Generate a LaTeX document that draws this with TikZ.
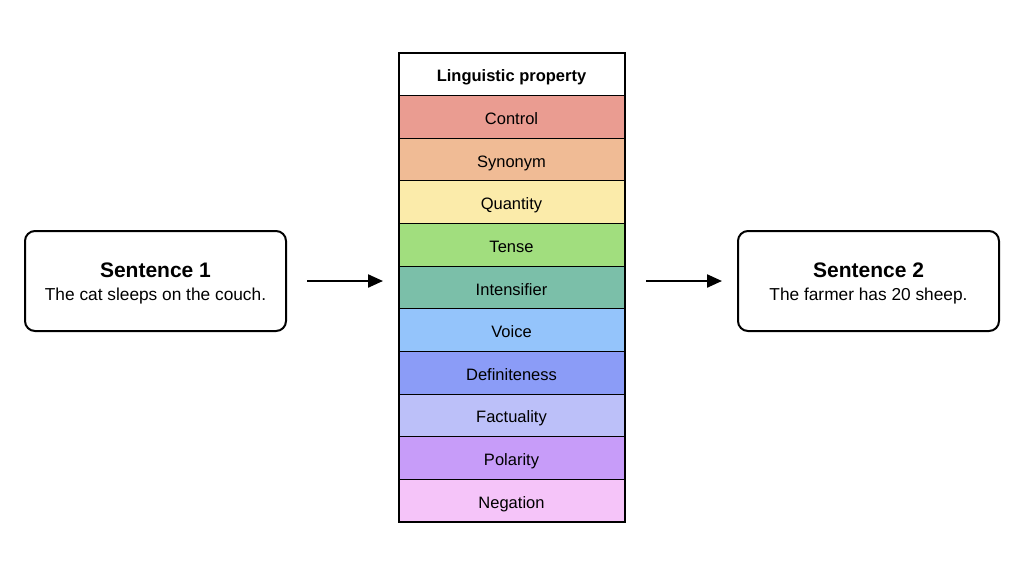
\documentclass[tikz,border=0pt]{standalone}
\usepackage{fontspec}
\setmainfont{Liberation Sans}
\usetikzlibrary{arrows.meta}
\definecolor{cControl}{HTML}{EA9C91}
\definecolor{cSynonym}{HTML}{F0BB95}
\definecolor{cQuantity}{HTML}{FBEBAA}
\definecolor{cTense}{HTML}{A1DE7E}
\definecolor{cIntens}{HTML}{7BBFA9}
\definecolor{cVoice}{HTML}{94C4FB}
\definecolor{cDef}{HTML}{8B9CF7}
\definecolor{cFact}{HTML}{BCC0F9}
\definecolor{cPol}{HTML}{C79CF9}
\definecolor{cNeg}{HTML}{F5C4F9}
\tikzset{
  sentbox/.style={draw=black, line width=2pt, rounded corners=10pt, minimum width=261pt, minimum height=100pt, inner sep=0pt},
  titletext/.style={inner sep=0pt, text height=15pt, text depth=0pt, font=\fontsize{21}{24}\selectfont\bfseries},
  bodytext/.style={inner sep=0pt, text height=12.5pt, text depth=0pt, font=\fontsize{17.3}{20}\selectfont},
  rowbox/.style={draw=black, line width=1pt, minimum width=225pt, minimum height=42.6pt, inner sep=0pt, text height=15pt, text depth=0pt, font=\fontsize{16.5}{19}\selectfont},
  sketcharrow/.style={line width=2.2pt, -{Triangle[length=15pt,width=13pt]}},
}
\begin{document}
\begin{tikzpicture}[x=1pt,y=-1pt]
\useasboundingbox (0,0) rectangle (1024,576);
\node[sentbox] (s1) at (155.5,281) {};
\node[titletext] (s1t) at (155.5,270) {Sentence 1};
\node[bodytext] (s1b) at (155.5,294) {The cat sleeps on the couch.};
\node[sentbox] (s2) at (868.5,281) {};
\node[titletext] (s2t) at (868.5,270) {Sentence 2};
\node[bodytext] (s2b) at (868.5,294) {The farmer has 20 sheep.};
\foreach \i/\name/\col/\txt in {0/r0/white/{\bfseries Linguistic property},1/r1/cControl/Control,2/r2/cSynonym/Synonym,3/r3/cQuantity/Quantity,4/r4/cTense/Tense,5/r5/cIntens/Intensifier,6/r6/cVoice/Voice,7/r7/cDef/Definiteness,8/r8/cFact/Factuality,9/r9/cPol/Polarity,10/r10/cNeg/Negation}{
  \node[rowbox, fill=\col] (\name) at (511.5,{53+42.636*\i+21.318}) {\txt};
}
\draw[line width=2pt] (r0.north west) rectangle (r10.south east);
\coordinate (a1s) at (307,281);
\coordinate (a1e) at (383,281);
\coordinate (a2s) at (646,281);
\coordinate (a2e) at (722,281);
\draw[sketcharrow] (a1s) -- (a1e);
\draw[sketcharrow] (a2s) -- (a2e);
\end{tikzpicture}
\end{document}
